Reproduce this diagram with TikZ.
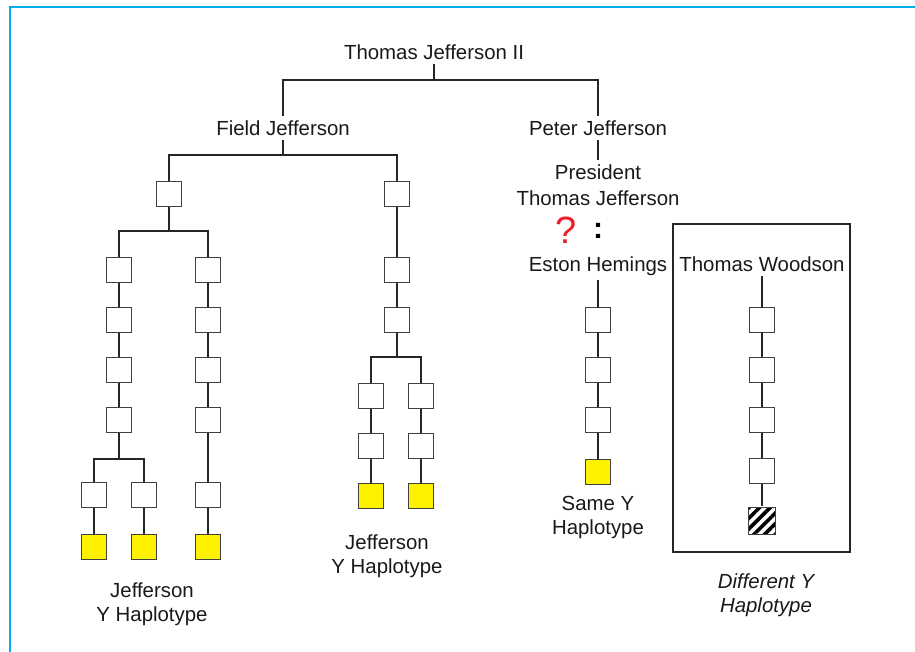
\documentclass[tikz,border=0pt]{standalone}
\usepackage{fontspec}
\setmainfont{Liberation Sans}
\usetikzlibrary{patterns.meta}
\definecolor{frameblue}{RGB}{0,174,239}
\definecolor{hapyellow}{RGB}{255,242,0}
\definecolor{qred}{RGB}{237,28,36}
\tikzset{
	person/.style={draw=black!75, line width=1.3pt, fill=white, minimum size=25pt, inner sep=0pt},
	jeff/.style={person, fill=hapyellow},
	other/.style={person, minimum size=27pt, pattern={Lines[angle=45,distance=7.5pt,line width=3.6pt]}},
	who/.style={font=\fontsize{20.4}{24}\selectfont, text=black!90, align=center, inner sep=4pt},
	link/.style={line width=2pt, black!85}
}
\begin{document}
\begin{tikzpicture}[x=1pt,y=-1pt]
	\useasboundingbox (0,0) rectangle (915,652);
	\draw[frameblue, line width=1.5pt] (10,652) -- (10,7) -- (915,7);
	
	\node[who] (tj2) at (434,52) {Thomas Jefferson II};
	\node[who] (fj) at (283,128) {Field Jefferson};
	\node[who] (pj) at (598,128) {Peter Jefferson};
	\coordinate (top) at (434,80);
	\draw[link] (tj2) -- (tj2 |- top);
	\draw[link] (fj) -- (fj |- top) -- (pj |- top) -- (pj);
	
	% Field Jefferson's line
	\node[person] (f1) at (169,194) {};
	\node[person] (f2) at (397,194) {};
	\coordinate (fsplit) at (283,155);
	\draw[link] (fj) -- (fj |- fsplit);
	\draw[link] (f1) -- (f1 |- fsplit) -- (f2 |- fsplit) -- (f2);
	
	\node[person] (a1) at (119,270) {};
	\node[person] (a2) at (119,320) {};
	\node[person] (a3) at (119,370) {};
	\node[person] (a4) at (119,420) {};
	\node[person] (a5) at (94,495) {};
	\node[person] (a6) at (144,495) {};
	\node[jeff] (a7) at (94,547) {};
	\node[jeff] (a8) at (144,547) {};
	\node[person] (b1) at (208,270) {};
	\node[person] (b2) at (208,320) {};
	\node[person] (b3) at (208,370) {};
	\node[person] (b4) at (208,420) {};
	\node[person] (b5) at (208,495) {};
	\node[jeff] (b6) at (208,547) {};
	\coordinate (asplit) at (169,231);
	\coordinate (a4split) at (119,459);
	\draw[link] (f1) -- (f1 |- asplit);
	\draw[link] (a1) -- (a1 |- asplit) -- (b1 |- asplit) -- (b1);
	\draw[link] (a1) -- (a2) -- (a3) -- (a4) -- (a4 |- a4split);
	\draw[link] (a5) -- (a5 |- a4split) -- (a6 |- a4split) -- (a6);
	\draw[link] (a5) -- (a7);
	\draw[link] (a6) -- (a8);
	\draw[link] (b1) -- (b2) -- (b3) -- (b4) -- (b5) -- (b6);
	\node[who] (jlab1) at (152,604) {Jefferson\\Y Haplotype};
	
	\node[person] (c1) at (397,270) {};
	\node[person] (c2) at (397,320) {};
	\node[person] (c3) at (371,396) {};
	\node[person] (c4) at (371,446) {};
	\node[jeff] (c5) at (371,496) {};
	\node[person] (c6) at (421,396) {};
	\node[person] (c7) at (421,446) {};
	\node[jeff] (c8) at (421,496) {};
	\coordinate (csplit) at (397,357);
	\draw[link] (f2) -- (c1) -- (c2) -- (c2 |- csplit);
	\draw[link] (c3) -- (c3 |- csplit) -- (c6 |- csplit) -- (c6);
	\draw[link] (c3) -- (c4) -- (c5);
	\draw[link] (c6) -- (c7) -- (c8);
	\node[who] (jlab2) at (387,556) {Jefferson\\Y Haplotype};
	
	% Peter Jefferson's line
	\node[who, font=\fontsize{20.4}{26}\selectfont] (ptj) at (598,185) {President\\Thomas Jefferson};
	\draw[link] (pj) -- (ptj);
	\node[text=qred, font=\fontsize{38}{38}\selectfont] (q) at (566,230) {?};
	\node[font=\fontsize{30}{30}\selectfont\bfseries] (colon) at (598,231) {:};
	\node[who] (eh) at (598,266) {Eston Hemings};
	\node[person] (e1) at (598,320) {};
	\node[person] (e2) at (598,370) {};
	\node[person] (e3) at (598,420) {};
	\node[jeff] (e4) at (598,472) {};
	\draw[link] (eh) -- (e1) -- (e2) -- (e3) -- (e4);
	\node[who] (same) at (598,517) {Same Y\\Haplotype};
	
	% Woodson
	\draw[line width=2pt, black!85] (673,224) rectangle (850,552);
	\node[who] (tw) at (762,264) {Thomas Woodson};
	\node[person] (w1) at (762,320) {};
	\node[person] (w2) at (762,370) {};
	\node[person] (w3) at (762,420) {};
	\node[person] (w4) at (762,471) {};
	\node[other] (w5) at (762,521) {};
	\draw[link] (tw) -- (w1) -- (w2) -- (w3) -- (w4) -- (w5);
	\node[who, font=\fontsize{20.4}{24}\selectfont\itshape] (diff) at (766,595) {Different Y\\Haplotype};
\end{tikzpicture}
\end{document}
